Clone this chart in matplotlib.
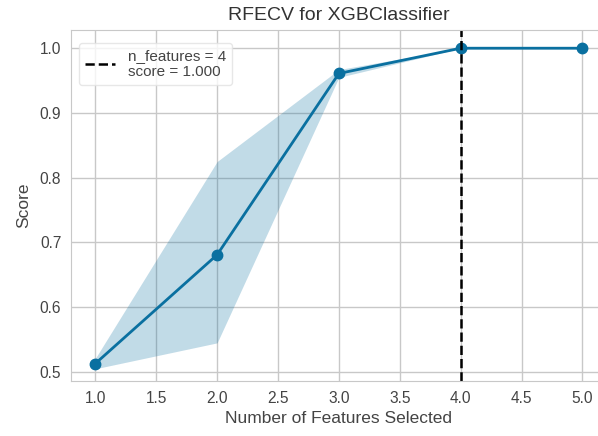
import matplotlib
matplotlib.use("Agg")
import matplotlib.pyplot as plt

# Cross-validated scores per number of selected features
n_features = [1, 2, 3, 4, 5]
score_mean = [0.513, 0.681, 0.961, 1.000, 1.000]
score_low = [0.505, 0.545, 0.955, 1.000, 1.000]
score_high = [0.521, 0.825, 0.967, 1.000, 1.000]
best_n = 4
best_score = 1.000

x_ticks = [1.0, 1.5, 2.0, 2.5, 3.0, 3.5, 4.0, 4.5, 5.0]
y_ticks = [0.5, 0.6, 0.7, 0.8, 0.9, 1.0]

plt.rcParams["font.family"] = ["Liberation Sans", "DejaVu Sans"]

line_color = "#0a70a0"
grid_color = "#c8c8c8"
text_color = "#444444"

fig = plt.figure(figsize=(5.98, 4.36), dpi=100)
ax = fig.add_axes([0.1187, 0.126, 0.896, 0.805])

ax.fill_between(n_features, score_low, score_high, color=line_color, alpha=0.25, linewidth=0)
ax.plot(n_features, score_mean, "o-", color=line_color, linewidth=2, markersize=7.5)
ax.axvline(best_n, color="black", linestyle="--", linewidth=1.8,
           label=f"n_features = {best_n}\nscore = {best_score:.3f}")

ax.set_xlim(0.8, 5.2)
ax.set_ylim(0.486, 1.028)
ax.set_xticks(x_ticks)
ax.set_yticks(y_ticks)
ax.set_xticklabels([f"{v:.1f}" for v in x_ticks])
ax.set_yticklabels([f"{v:.1f}" for v in y_ticks])

ax.grid(True, color=grid_color, linewidth=1)
ax.set_axisbelow(True)
for s in ax.spines.values():
    s.set_color(grid_color)
ax.tick_params(axis="both", length=0, pad=7, labelsize=11.2, colors=text_color)

ax.set_title("RFECV for XGBClassifier", fontsize=14, color="#333333", pad=7)
ax.set_xlabel("Number of Features Selected", fontsize=12.5, color=text_color, labelpad=4)
ax.set_ylabel("Score", fontsize=12.5, color=text_color, labelpad=6)

leg = ax.legend(loc="upper left", bbox_to_anchor=(0.0, 0.985), frameon=True,
                fontsize=11, handlelength=2.0, labelspacing=0.1)
leg.get_frame().set_edgecolor("#e2e2e2")
leg.get_frame().set_facecolor("white")
for t in leg.get_texts():
    t.set_color(text_color)

fig.savefig("out.png", dpi=100)
